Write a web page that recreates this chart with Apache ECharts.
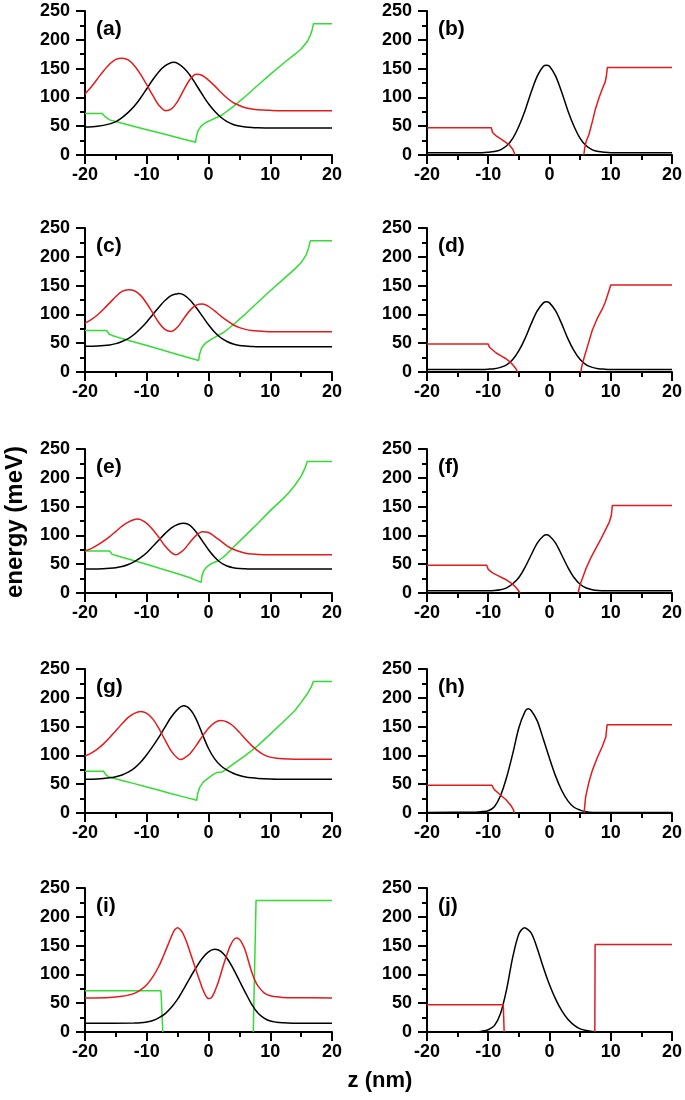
<!DOCTYPE html>
<html><head><meta charset="utf-8">
<script src="https://cdn.jsdelivr.net/npm/echarts@6/dist/echarts.min.js"></script>
<style>html,body{margin:0;padding:0;background:#fff}#c{width:685px;height:1100px}</style>
</head><body><div id="c"></div>
<script>
// ---- data: [z (nm), energy (meV)] ----
const xTicks = [-20, -10, 0, 10, 20];
const yTicks = [0, 50, 100, 150, 200, 250];
const panelLabels = ['(a)','(b)','(c)','(d)','(e)','(f)','(g)','(h)','(i)','(j)'];

const aBlack = [[-20,48.4],[-18,49.8],[-16,54],[-15,58],[-14,65],[-13,74],[-12,85],[-11,99],[-10,115],[-9,131],[-8,145],[-7,155],[-6,160.5],[-5.6,161],[-5,159],[-4,151],[-3,138.5],[-2,122],[-1,105],[0,89],[1,76],[2,65.6],[3,58],[4,53],[5,50.4],[6,48.7],[7,47.7],[8,47.3],[10,47],[20,47]];
const aRed = [[-20,106],[-19,118],[-18,132],[-17,146],[-16,158],[-15,166],[-14,168],[-13,165],[-12,155],[-11,140],[-10,122],[-9,103],[-8,86],[-7,77],[-6,80],[-5,93],[-4,113],[-3,131],[-2,140],[-1,138],[0,130],[1,120],[2,109],[3,99],[4,91],[5,86],[6,82],[7,80],[8,78.5],[9,78],[10,77.5],[12,77],[20,77]];
const aGreen = [[-20,72],[-17.2,72],[-16.7,66],[-16,61],[-14,55],[-12,49.5],[-10,44],[-8,38.5],[-6,33],[-4,27.5],[-2.1,22],[-1.95,32],[-1.7,42],[-1.2,50],[-0.5,56],[0.5,61],[1.5,66],[2.2,69.5],[3,76],[4,84],[6,102],[8,121],[10,140],[12,158],[14,175],[15,184],[16,197],[16.5,208],[16.8,218],[17,228],[20,228]];

const bBlack = [[-20,4],[-11,4],[-10,4.7],[-9,6],[-8,9],[-7,16],[-6,29],[-5,50],[-4,77],[-3,109],[-2,137],[-1,154],[-0.5,156],[0,154],[1,137],[2,109],[3,77],[4,50],[5,29],[6,16],[7,9],[8,6],[9,4.7],[10,4],[20,4]];
const bRedL = [[-20,47.5],[-9.5,47.5],[-9.3,39],[-8.7,33],[-7.6,25.5],[-6.55,17.5],[-6,10],[-5.6,0]];
const bRedR = [[5.6,0],[5.75,12],[6.0,24],[6.45,36],[7.0,58],[7.5,80],[8.1,100],[8.6,114],[9.1,127],[9.3,138],[9.45,152],[20,152]];

const cBlack = [[-20,44.6],[-18,45.2],[-16,47],[-15,49.3],[-14,53],[-13,58],[-12,65.5],[-11,75.5],[-10,87],[-9,100],[-8,113],[-7,124.5],[-6,133],[-5,136],[-4.8,136.5],[-4,134],[-3,125],[-2,112],[-1,97],[0,82],[1,69],[2,59.5],[3,53],[4,48.6],[5,46.2],[6,45],[7,44.4],[8,44],[20,44]];
const cRed = [[-20,85],[-19,91],[-18,99],[-17,109],[-16,120],[-15,131],[-14,140],[-13,143],[-12,141],[-11,133],[-10,119],[-9,102],[-8,85],[-7,73.5],[-6,70.5],[-5,78],[-4,93],[-3,107],[-2,116],[-1,118],[0,114],[1,106],[2,97],[3,89],[4,82],[5,77],[6,74],[7,72],[8,71],[9,70.5],[10,70],[20,70]];
const cGreen = [[-20,72],[-16.5,72],[-16.1,66],[-15.6,63.5],[-14,58],[-12,52],[-10,46],[-8,40],[-6,33.5],[-4,27.5],[-1.6,20],[-1.45,31],[-1.1,42],[-0.5,50],[0.5,57],[1.5,63],[2.5,69],[4,82],[6,101],[8,121],[10,141],[12,160],[14,179],[15,190],[15.8,203],[16.2,215],[16.5,228],[20,228]];

const dBlack = [[-20,4.5],[-11,4.5],[-10,4.9],[-9,5.7],[-8,8],[-7,12.5],[-6,21.5],[-5,37],[-4,58],[-3,83.5],[-2,106],[-1,120],[-0.5,122],[0,120],[1,106],[2,83.5],[3,58],[4,37],[5,21.5],[6,12.5],[7,8],[8,5.7],[9,4.9],[10,4.5],[20,4.5]];
const dRedL = [[-20,48.5],[-10,48.5],[-9.8,43],[-9.5,40],[-8.7,33],[-7.9,28],[-7.1,23],[-6.5,18],[-6,12.5],[-5.5,6],[-5.2,0]];
const dRedR = [[5.1,0],[5.3,11],[5.6,23],[6.3,48],[7,73],[7.8,93],[8.6,109],[9.1,121],[9.5,134],[9.8,144],[10,151],[20,151]];

const eBlack = [[-20,41.5],[-18,41.8],[-16,43],[-15,44],[-14,46],[-13,49.5],[-12,54.5],[-11,61.5],[-10,70],[-9,81],[-8,92.5],[-7,103.5],[-6,113],[-5,119],[-4,121],[-3,117.5],[-2,106],[-1,90.5],[0,75],[1,62],[2,52.5],[3,47],[4,44],[5,42.5],[6,42],[7,41.5],[20,41.5]];
const eRed = [[-20,73],[-19,77],[-18,83],[-17,90],[-16,98],[-15,107],[-14,116],[-13,123],[-12,127.5],[-11.5,128.5],[-11,127.5],[-10,121],[-9,110],[-8,96],[-7,81],[-6,70],[-5.3,66.5],[-5,67],[-4,75],[-3,88],[-2,100],[-1,106.5],[0,105],[1,98],[2,90],[3,82],[4,76],[5,72],[6,69],[7,67.5],[8,67],[9,66.5],[20,66.5]];
const eGreen = [[-20,73],[-16,73],[-15.6,67],[-15,65],[-13,59],[-11,53],[-9,46.5],[-7,40],[-5,33.5],[-3,26.5],[-1.2,18.5],[-1.05,30],[-0.8,38],[-0.3,45],[0.3,50],[1,53.5],[1.6,56],[2.5,63],[3,68],[4,79],[6,100],[8,121],[10,143],[12,163],[13,174],[14,187],[15,203],[15.6,216],[16,228.5],[20,228.5]];

const fBlack = [[-20,4],[-10,4],[-9,4.5],[-8,5.8],[-7,9],[-6,16],[-5,27],[-4,44.4],[-3,66],[-2,86.6],[-1,99],[-0.5,101],[0,99],[1,86.6],[2,66],[3,44.4],[4,26.8],[5,15.2],[6,8.7],[7,5.8],[8,4.5],[9,4],[20,4]];
const fRedL = [[-20,48],[-10.25,48],[-10,41],[-9.3,35],[-8.5,30.5],[-7.65,26],[-7,22.5],[-6.3,17.5],[-5.7,12],[-5.2,6],[-4.8,0]];
const fRedR = [[4.7,0],[4.85,9],[5.1,17.5],[5.9,41],[6.7,60],[7.5,76],[8.4,94],[9.2,111],[9.8,124],[10.1,135],[10.25,152],[20,152]];

const gBlack = [[-20,58.5],[-18,59],[-16,61],[-15,63],[-14,66],[-13,71],[-12,78],[-11,88],[-10,101],[-9,116],[-8,132],[-7,150],[-6,167],[-5,180],[-4,186],[-3,180],[-2,163],[-1,137],[0,112],[1,94],[2,82],[3,74.5],[4,69],[5,65],[6,62.5],[7,61],[8,60],[10,59],[12,58.5],[20,58.5]];
const gRed = [[-20,99],[-19,104],[-18,111],[-17,120],[-16,131],[-15,143],[-14,155],[-13,166],[-12,173],[-11,176],[-10,173],[-9,163],[-8,146],[-7,126],[-6,107],[-5,95],[-4.5,93],[-4,95],[-3,103],[-2,117],[-1,133],[0,147],[1,157],[2,160.5],[3,158],[4,151],[5,140],[6,128],[7,117],[8,108],[9,101],[10,97],[11,95],[12,94],[14,93.5],[20,93.5]];
const gGreen = [[-20,72.5],[-17,72.5],[-16.6,66],[-16.2,63],[-14,56.5],[-12,51],[-10,45],[-8,39.5],[-6,33.5],[-4,28],[-1.9,22],[-1.75,34],[-1.4,45],[-0.8,54],[0,61],[0.8,67],[1.4,70.5],[1.7,69],[2.2,71],[3,77],[4,85],[6,100],[8,117],[10,137],[12,157],[14,178],[15,192],[16,207],[16.6,218],[17,228.5],[20,228.5]];

const hBlack = [[-20,1],[-12,1.5],[-11,2.5],[-10,4],[-9,11],[-8,30],[-7,62],[-6,103],[-5,148],[-4,176],[-3.5,181],[-3,178],[-2,160],[-1,128],[0,95],[1,64],[2,39],[3,21],[4,10],[5,5],[6,2],[7,1],[20,1]];
const hRedL = [[-20,48],[-9.4,48],[-9.2,44],[-9,40.5],[-8.2,33],[-7.1,23],[-6.3,13],[-5.9,6],[-5.75,0]];
const hRedR = [[5.65,0],[5.75,12],[5.9,28],[6.4,52],[7,74],[7.8,96],[8.6,115],[9.2,132],[9.4,153],[20,153]];

const iBlack = [[-20,15],[-12,15.5],[-11,16],[-10,17.5],[-9,20],[-8,25],[-7,32],[-6,43],[-5,57],[-4,75],[-3,94],[-2,112],[-1,128],[0,139],[1,143.5],[2,140],[3,128],[4,110],[5,89],[6,68],[7,48],[8,33],[9,24],[10,19],[11,17],[12,16],[14,15],[20,15]];
const iRed = [[-20,59],[-16,60],[-14,62],[-13,64],[-12,67],[-11,73],[-10,82],[-9,96],[-8,115],[-7.5,127],[-7,140],[-6.5,153],[-6,166],[-5.5,177],[-5,181],[-4.5,177],[-4,168],[-3.5,155],[-3,139],[-2.5,123],[-2,107],[-1.5,91],[-1,76],[-0.5,64],[0,58],[0.5,60],[1,70],[1.5,84],[2,101],[2.5,119],[3,135],[3.5,149],[4,159],[4.5,163],[5,161],[5.5,153],[6,140],[6.5,122],[7,104],[7.5,90],[8,80],[9,68],[10,63],[11,61],[12,60],[14,59.5],[20,59]];
const iGreenL = [[-20,71.5],[-7.7,71.5],[-7.4,0]];
const iGreenR = [[7.25,0],[7.7,228.5],[20,228.5]];

const jBlack = [[-20,0.5],[-12,0.5],[-11,1.5],[-10,4],[-9,11],[-8,32],[-7,74],[-6,130],[-5,170],[-4.1,181],[-3,172],[-2,145],[-1,112],[0,82],[1,57],[2,37],[3,22],[4,12],[5,5.5],[6,2.5],[7,1],[8,0.5],[20,0.5]];
const jRedL = [[-20,47.5],[-7.55,47.5],[-7.4,0]];
const jRedR = [[7.4,0],[7.45,152],[20,152]];

// ---- styling / layout ----
const BLACK = '#000000', RED = '#e41a1c', GREEN = '#33dd33';
const FONT = '"Liberation Sans", Arial, Helvetica, sans-serif';
const colLeft = [85, 427], colWidth = [247, 246];
const rowTop = [11, 228, 449, 669, 888], rowH = 144;

const panelSeries = [
  [[aGreen,GREEN,false],[aBlack,BLACK,true],[aRed,RED,true]],
  [[bBlack,BLACK,true],[bRedL,RED,false],[bRedR,RED,false]],
  [[cGreen,GREEN,false],[cBlack,BLACK,true],[cRed,RED,true]],
  [[dBlack,BLACK,true],[dRedL,RED,false],[dRedR,RED,false]],
  [[eGreen,GREEN,false],[eBlack,BLACK,true],[eRed,RED,true]],
  [[fBlack,BLACK,true],[fRedL,RED,false],[fRedR,RED,false]],
  [[gGreen,GREEN,false],[gBlack,BLACK,true],[gRed,RED,true]],
  [[hBlack,BLACK,true],[hRedL,RED,false],[hRedR,RED,false]],
  [[iGreenL,GREEN,false],[iGreenR,GREEN,false],[iBlack,BLACK,true],[iRed,RED,true]],
  [[jBlack,BLACK,true],[jRedL,RED,false],[jRedR,RED,false]]
];

const grid = [], xAxis = [], yAxis = [], series = [], graphic = [];
const axisCommon = {
  axisLine: {onZero: false, lineStyle: {color: '#000', width: 2}},
  axisTick: {show: true, inside: false, length: 9, lineStyle: {color: '#000', width: 2}},
  minorTick: {show: true, splitNumber: 2, length: 5, lineStyle: {color: '#000', width: 2}},
  splitLine: {show: false}, minorSplitLine: {show: false},
};
panelSeries.forEach((ps, k) => {
  const col = k % 2, row = Math.floor(k / 2);
  grid.push({left: colLeft[col], top: rowTop[row], width: colWidth[col], height: rowH, containLabel: false});
  xAxis.push(Object.assign({}, axisCommon, {
    type: 'value', gridIndex: k, min: xTicks[0], max: xTicks[xTicks.length-1], interval: xTicks[1]-xTicks[0],
    axisLabel: {color: '#000', fontSize: 18, fontWeight: 'bold', fontFamily: FONT, margin: 11}
  }));
  yAxis.push(Object.assign({}, axisCommon, {
    type: 'value', gridIndex: k, min: yTicks[0], max: yTicks[yTicks.length-1], interval: yTicks[1]-yTicks[0],
    axisLabel: {color: '#000', fontSize: 18, fontWeight: 'bold', fontFamily: FONT, margin: 15}
  }));
  ps.forEach(([d, c, sm]) => {
    series.push({type: 'line', xAxisIndex: k, yAxisIndex: k, data: d, showSymbol: false, symbol: 'none',
      smooth: sm ? 0.3 : false, clip: true, silent: true, animation: false,
      lineStyle: {color: c, width: 1.5}});
  });
  graphic.push({type: 'text', left: colLeft[col] + 11, top: rowTop[row] + 8,
    style: {text: panelLabels[k], font: 'bold 21px ' + FONT, fill: '#000'}});
});
graphic.push({type: 'text', x: 15, y: 522, rotation: Math.PI/2,
  style: {text: 'energy (meV)', font: 'bold 24px ' + FONT, fill: '#000', align: 'center', verticalAlign: 'middle'}});
graphic.push({type: 'text', x: 380, y: 1081,
  style: {text: 'z (nm)', font: 'bold 22px ' + FONT, fill: '#000', align: 'center', verticalAlign: 'middle'}});

const chart = echarts.init(document.getElementById('c'), null, {renderer: 'canvas'});
chart.setOption({animation: false, backgroundColor: '#fff', grid, xAxis, yAxis, series, graphic});
</script></body></html>
